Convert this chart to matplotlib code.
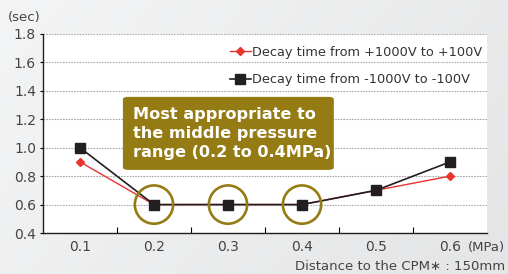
import numpy as np
import matplotlib
matplotlib.use("Agg")
import matplotlib.pyplot as plt
from matplotlib.patches import FancyBboxPatch

# data
pressures = ["0.1", "0.2", "0.3", "0.4", "0.5", "0.6"]
decay_pos = [0.9, 0.6, 0.6, 0.6, 0.7, 0.8]   # +1000V -> +100V
decay_neg = [1.0, 0.6, 0.6, 0.6, 0.7, 0.9]   # -1000V -> -100V
circled = [1, 2, 3]
y_ticks = [0.4, 0.6, 0.8, 1.0, 1.2, 1.4, 1.6, 1.8]

grey_txt = "#444444"
gold = "#957b14"

fig = plt.figure(figsize=(5.08, 2.74), dpi=100)

# light grey gradient background
bg = fig.add_axes([0, 0, 1, 1], zorder=-10)
gx, gy = np.meshgrid(np.linspace(0, 1, 200), np.linspace(0, 1, 100))
t = np.clip(0.7 * gx + 0.3 * gy, 0, 1)
shade = 0.955 - 0.06 * t
bg.imshow(np.dstack([shade, shade + 0.003, shade + 0.006]).clip(0, 1),
          aspect="auto", extent=[0, 1, 0, 1], origin="upper")
bg.axis("off")

ax = fig.add_axes([0.0846, 0.1496, 0.8741, 0.7264])
ax.set_facecolor("white")
x = np.arange(len(pressures))

ax.plot(x, decay_pos, color="#e8332f", lw=1, marker="D", ms=4, zorder=3,
        label="Decay time from +1000V to +100V")
ax.plot(x, decay_neg, color="#231f20", lw=1.2, marker="s", ms=7, zorder=4,
        label="Decay time from -1000V to -100V")

ax.scatter([x[i] for i in circled], [decay_neg[i] for i in circled], s=760,
           facecolors="none", edgecolors=gold, linewidths=1.9, zorder=5)

ax.set_xlim(-0.5, len(pressures) - 0.5)
ax.set_ylim(0.4, 1.8)
ax.set_yticks(y_ticks)
ax.set_yticklabels(["%.1f" % v for v in y_ticks])
ax.set_xticks(x)
ax.set_xticklabels(pressures)
ax.set_xticks(x[:-1] + 0.5, minor=True)
ax.tick_params(axis="x", which="major", length=0, pad=5, labelsize=10, labelcolor=grey_txt)
ax.tick_params(axis="x", which="minor", direction="in", length=4, width=0.8)
ax.tick_params(axis="y", length=2, width=0.8, pad=3, labelsize=10, labelcolor=grey_txt)
ax.grid(axis="y", color="#aaaaaa", ls=(0, (1.5, 1)), lw=0.8)
ax.set_axisbelow(True)
for s in ["top", "right"]:
    ax.spines[s].set_visible(False)
for s in ["left", "bottom"]:
    ax.spines[s].set_linewidth(1.0)
    ax.spines[s].set_color("#231f20")

leg = ax.legend(loc="upper right", bbox_to_anchor=(1.015, 1.0), frameon=False,
                fontsize=9.3, handlelength=1.6, handletextpad=0.1,
                labelspacing=1.15, labelcolor="#333333")

box = FancyBboxPatch((0.18, 0.317), 0.475, 0.367, transform=ax.transAxes,
                     boxstyle="round,pad=0,rounding_size=0.012",
                     facecolor=gold, edgecolor="none", zorder=6)
ax.add_patch(box)
ax.text(0.203, 0.5, "Most appropriate to\nthe middle pressure\nrange (0.2 to 0.4MPa)",
        transform=ax.transAxes, ha="left", va="center", color="white",
        fontsize=11.6, fontweight="bold", linespacing=1.3, zorder=7)

fig.text(0.016, 0.935, "(sec)", fontsize=9.5, color=grey_txt, va="center")
fig.text(0.995, 0.098, "(MPa)", fontsize=9.5, color=grey_txt, ha="right", va="center")
fig.text(0.995, 0.028, "Distance to the CPM\u2217 : 150mm", fontsize=9.5,
         color=grey_txt, ha="right", va="center")

fig.savefig("out.png", dpi=100)
